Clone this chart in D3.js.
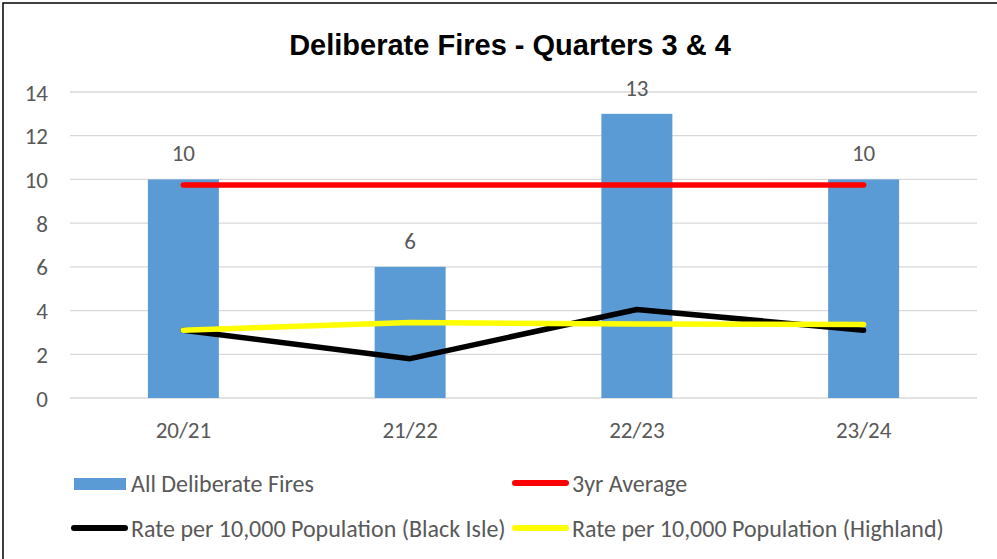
<!DOCTYPE html>
<html>
<head>
<meta charset="utf-8">
<script src="https://cdn.jsdelivr.net/npm/d3@7"></script>
<style>
  body { margin: 0; background: #fff; }
  text { font-family: Carlito, Calibri, "Open Sans", sans-serif; fill: #595959; }
</style>
</head>
<body>
<div id="chart"></div>
<script>
const width = 997;
const height = 559;

const years = ["20/21", "21/22", "22/23", "23/24"];
const allFires = [10, 6, 13, 10];
const avg3yr = [9.75, 9.75, 9.75, 9.75];
const rateBlackIsle = [3.1, 1.8, 4.05, 3.1];
const rateHighland = [3.1, 3.45, 3.38, 3.36];
const yTicks = [0, 2, 4, 6, 8, 10, 12, 14];

const margin = { top: 92, right: 20, bottom: 161, left: 70 }

const svg = d3.select("#chart").append("svg").attr("width", width).attr("height", height)

// outer frame
svg.append("rect")
   .attr("x", 3).attr("y", 3)
   .attr("width", width + 10).attr("height", height + 10)
   .attr("fill", "none")
   .attr("stroke", "#000")
   .attr("stroke-width", 1.5)

svg.append("text")
   .text("Deliberate Fires - Quarters 3 & 4")
   .attr("x", 510)
   .attr("y", 55)
   .attr("text-anchor", "middle")
   .style("font-family", "'Liberation Sans', Arial, sans-serif")
   .style("font-weight", "bold")
   .style("font-size", "29px")
   .style("fill", "#000")

const xScale = d3.scaleBand()
                 .domain(years)
                 .range([margin.left, 977])

const yScale = d3.scaleLinear()
                 .domain([0, 14])
                 .range([398, margin.top])

// gridlines
svg.append("g")
   .selectAll("line")
   .data(yTicks)
   .enter()
   .append("line")
   .attr("x1", margin.left)
   .attr("x2", 977)
   .attr("y1", d => yScale(d))
   .attr("y2", d => yScale(d))
   .attr("stroke", "#d9d9d9")
   .attr("stroke-width", 1.3)

const gy = svg.append("g")
              .attr("transform", `translate(${margin.left - 22}, 0)`)
              .call(d3.axisLeft(yScale).tickValues(yTicks).tickSize(0).tickPadding(0))
gy.select(".domain").remove()
gy.selectAll("text").style("font-size", "23px").attr("dy", "0.35em")

const gx = svg.append("g")
              .attr("transform", `translate(0, ${yScale(0)})`)
              .call(d3.axisBottom(xScale).tickSize(0).tickPadding(24))
gx.select(".domain").remove()
gx.selectAll("text").style("font-size", "23px")

const barW = xScale.bandwidth() * 0.313
const cx = d => xScale(d) + xScale.bandwidth() / 2

svg.append("g")
   .selectAll("rect")
   .data(years)
   .enter()
   .append("rect")
   .attr("x", (d) => cx(d) - barW / 2)
   .attr("y", (d, i) => yScale(allFires[i]))
   .attr("width", barW)
   .attr("height", (d, i) => yScale(0) - yScale(allFires[i]))
   .attr("fill", "#5b9bd5")

svg.append("g")
   .selectAll("text")
   .data(years)
   .enter()
   .append("text")
   .attr("x", d => cx(d))
   .attr("y", (d, i) => yScale(allFires[i]) - 18)
   .attr("text-anchor", "middle")
   .style("font-size", "23px")
   .text((d, i) => allFires[i])

const line = d3.line()
               .x((d, i) => cx(years[i]))
               .y(d => yScale(d))

const series = [
  { values: avg3yr, color: "#ff0000" },
  { values: rateBlackIsle, color: "#000000" },
  { values: rateHighland, color: "#ffff00" }
]

svg.append("g")
   .selectAll("path")
   .data(series)
   .enter()
   .append("path")
   .attr("d", d => line(d.values))
   .attr("fill", "none")
   .attr("stroke", d => d.color)
   .attr("stroke-width", 5.5)
   .attr("stroke-linecap", "round")
   .attr("stroke-linejoin", "round")

// legend
const legend = svg.append("g")

legend.append("rect")
      .attr("x", 74).attr("y", 478)
      .attr("width", 52).attr("height", 12)
      .attr("fill", "#5b9bd5")

legend.append("text").attr("x", 131).attr("y", 484).attr("dy", "0.35em").style("font-size", "24px").text("All Deliberate Fires")

const legendLines = [
  { x: 515, y: 483, color: "#ff0000", label: "3yr Average" },
  { x: 74, y: 528, color: "#000000", label: "Rate per 10,000 Population (Black Isle)" },
  { x: 515, y: 528, color: "#ffff00", label: "Rate per 10,000 Population (Highland)" }
]

legendLines.forEach(d => {
  legend.append("line")
        .attr("x1", d.x).attr("x2", d.x + 51)
        .attr("y1", d.y).attr("y2", d.y)
        .attr("stroke", d.color)
        .attr("stroke-width", 6)
        .attr("stroke-linecap", "round")
  legend.append("text")
        .attr("x", d.x + 57).attr("y", d.y + 1)
        .attr("dy", "0.35em")
        .style("font-size", "24px")
        .text(d.label)
})
</script>
</body>
</html>
